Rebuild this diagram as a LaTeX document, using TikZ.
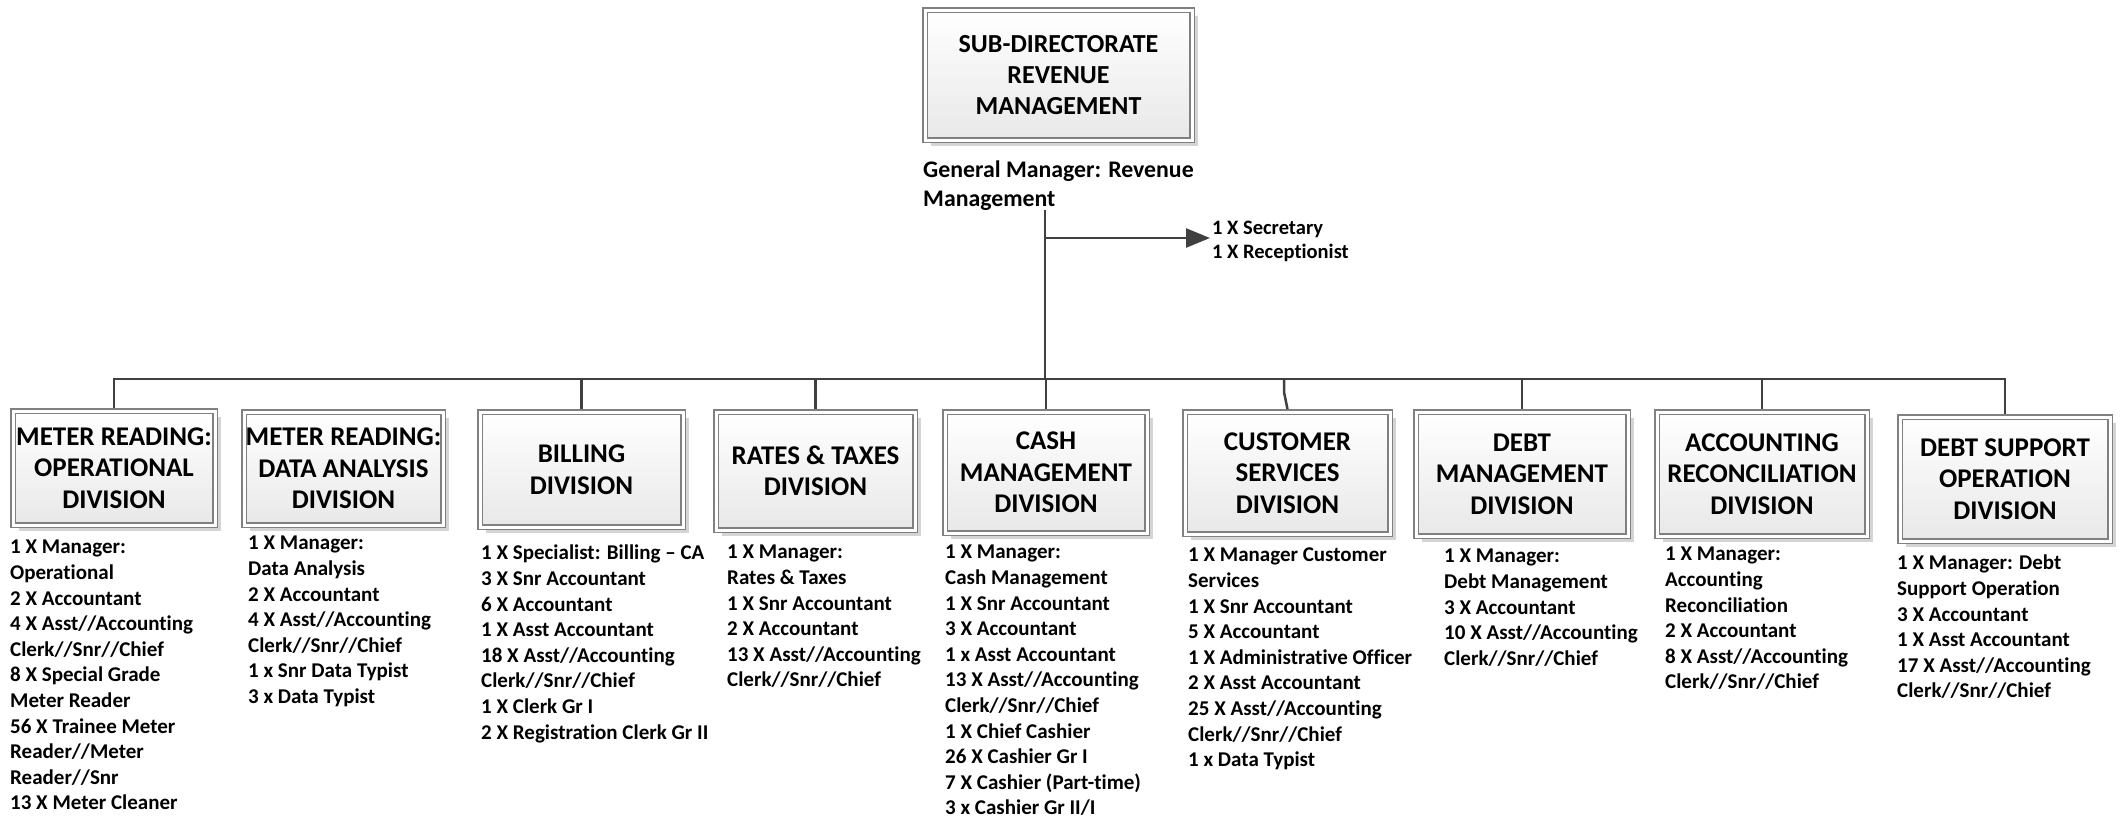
\documentclass[tikz,border=0pt]{standalone}
\usepackage{fontspec}
\setmainfont{Carlito}[Ligatures={TeX,NoCommon}]
\definecolor{LineGrey}{RGB}{64,64,64}
\definecolor{BoxGrey}{RGB}{128,128,128}
\definecolor{ShadowGrey}{RGB}{212,212,212}
\usetikzlibrary{arrows.meta, positioning, shadows}

\tikzset{
  divbox/.style={draw=BoxGrey, line width=1.3pt, double=white, double distance=3pt, outer sep=2.8pt,
    top color=white, bottom color=black!9,
    drop shadow={shadow xshift=6pt, shadow yshift=-6pt, fill=ShadowGrey, opacity=1},
    align=center, inner sep=0pt, font=\fontsize{27}{31.5}\selectfont\bfseries},
  staff/.style={anchor=north west, align=left, inner sep=0pt, font=\fontsize{21}{25.6}\selectfont\bfseries},
  conn/.style={draw=LineGrey, line width=2.5pt},
}

\begin{document}
\begin{tikzpicture}[x=1pt, y=-1pt]
        \useasboundingbox (0,0) rectangle (2121,817);

        % top box
        \node[divbox, minimum width=267, minimum height=130, font=\fontsize{26}{31}\selectfont\bfseries] (top) at (1058.5,75) {SUB-DIRECTORATE\\REVENUE\\MANAGEMENT};
        \node[staff, font=\fontsize{23.8}{29}\selectfont\bfseries] (gm) at (923,160.5) {General Manager: Revenue\\Management};
        \node[staff, font=\fontsize{20.5}{24}\selectfont\bfseries] (sec) at (1212,221) {1 X Secretary\\1 X Receptionist};

        % divisions
        \node[divbox, minimum width=202, minimum height=114] (d1) at (114,468) {METER READING:\\OPERATIONAL\\DIVISION};
        \node[divbox, minimum width=199, minimum height=113] (d2) at (343.5,468.5) {METER READING:\\DATA ANALYSIS\\DIVISION};
        \node[divbox, minimum width=203, minimum height=115] (d3) at (581.5,469.5) {BILLING\\DIVISION};
        \node[divbox, minimum width=199, minimum height=118] (d4) at (815.5,471) {RATES \& TAXES\\DIVISION};
        \node[divbox, minimum width=202, minimum height=121] (d5) at (1046,472.5) {CASH\\MANAGEMENT\\DIVISION};
        \node[divbox, minimum width=205, minimum height=122] (d6) at (1287.5,473) {CUSTOMER\\SERVICES\\DIVISION};
        \node[divbox, minimum width=212, minimum height=124] (d7) at (1522,474) {DEBT\\MANAGEMENT\\DIVISION};
        \node[divbox, minimum width=210, minimum height=124] (d8) at (1762,474) {ACCOUNTING\\RECONCILIATION\\DIVISION};
        \node[divbox, minimum width=210, minimum height=124] (d9) at (2005,479) {DEBT SUPPORT\\OPERATION\\DIVISION};

        % staff lists
        \node[staff] (s1) at (10,540) {1 X Manager:\\Operational\\2 X Accountant\\4 X Asst//Accounting\\Clerk//Snr//Chief\\8 X Special Grade\\Meter Reader\\56 X Trainee Meter\\Reader//Meter\\Reader//Snr\\13 X Meter Cleaner};
        \node[staff] (s2) at (248,536) {1 X Manager:\\Data Analysis\\2 X Accountant\\4 X Asst//Accounting\\Clerk//Snr//Chief\\1 x Snr Data Typist\\3 x Data Typist};
        \node[staff] (s3) at (481,545) {1 X Specialist: Billing -- CA\\3 X Snr Accountant\\6 X Accountant\\1 X Asst Accountant\\18 X Asst//Accounting\\Clerk//Snr//Chief\\1 X Clerk Gr I\\2 X Registration Clerk Gr II};
        \node[staff] (s4) at (727,545) {1 X Manager:\\Rates \& Taxes\\1 X Snr Accountant\\2 X Accountant\\13 X Asst//Accounting\\Clerk//Snr//Chief};
        \node[staff] (s5) at (945,545) {1 X Manager:\\Cash Management\\1 X Snr Accountant\\3 X Accountant\\1 x Asst Accountant\\13 X Asst//Accounting\\Clerk//Snr//Chief\\1 X Chief Cashier\\26 X Cashier Gr I\\7 X Cashier (Part-time)\\3 x Cashier Gr II/I};
        \node[staff] (s6) at (1188,548) {1 X Manager Customer\\Services\\1 X Snr Accountant\\5 X Accountant\\1 X Administrative Officer\\2 X Asst Accountant\\25 X Asst//Accounting\\Clerk//Snr//Chief\\1 x Data Typist};
        \node[staff] (s7) at (1444,549) {1 X Manager:\\Debt Management\\3 X Accountant\\10 X Asst//Accounting\\Clerk//Snr//Chief};
        \node[staff] (s8) at (1665,547) {1 X Manager:\\Accounting\\Reconciliation\\2 X Accountant\\8 X Asst//Accounting\\Clerk//Snr//Chief};
        \node[staff] (s9) at (1897,555) {1 X Manager: Debt\\Support Operation\\3 X Accountant\\1 X Asst Accountant\\17 X Asst//Accounting\\Clerk//Snr//Chief};

        % connectors
        \coordinate (stem) at (1045,210);
        \coordinate (j) at (1045,238);
        \coordinate (bus) at (1045,379);
        \coordinate (k6) at (1284,392);

        \draw[conn] (stem) -- (bus);
        \draw[conn, -{Triangle[length=24pt, width=19pt]}, shorten >=2pt] (j) -- (j -| sec.west);
        \draw[conn] (d1.north) -- (d1.north |- bus) -- (d9.north |- bus) -- (d9.north);
        \foreach \n in {3,4,5,7,8}
            \draw[conn] (d\n.north |- bus) -- (d\n.north);
        \draw[conn] (k6 |- bus) -- (k6) -- (d6.north);
\end{tikzpicture}
\end{document}
